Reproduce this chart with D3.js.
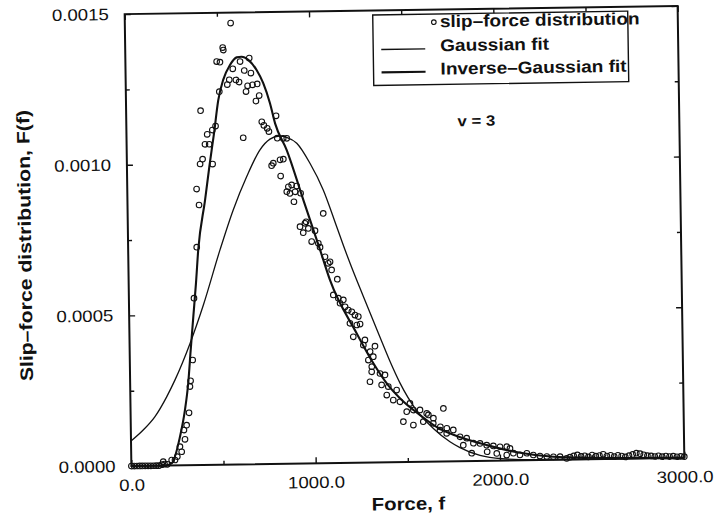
<!DOCTYPE html>
<html>
<head>
<meta charset="utf-8">
<script src="https://cdn.jsdelivr.net/npm/d3@7"></script>
<style>
  body { margin: 0; background: #fff; }
  svg { display: block; }
</style>
</head>
<body>
<svg id="chart" width="715" height="517"></svg>
<script>
// ---------------- data ----------------
const xTickValues = [0, 1000, 2000, 3000];
const xTickLabels = ["0.0", "1000.0", "2000.0", "3000.0"];
const xMinorTicks = [500, 1500, 2500];
const yTickValues = [0, 0.0005, 0.0010, 0.0015];
const yTickLabels = ["0.0000", "0.0005", "0.0010", "0.0015"];
const yMinorTicks = [0.00025, 0.00075, 0.00125];

const xTitle = "Force, f";
const yTitle = "Slip\u2013force distribution, F(f)";
const legendLabels = ["slip\u2013force distribution", "Gaussian fit", "Inverse\u2013Gaussian fit"];
const annotationText = "v = 3";

// measured slip-force distribution (force, F(f))
const slipPoints = [
  [0,0],[15,0],[30,0],[45,0],[60,0],[75,0],[90,0],[105,0],[120,0],[135,0],[150,0],
  [165,0.000003],[173,0.000013],[180,0.000005],[195,0.000004],[219,0.000018],
  [237,0.000018],[250,0.000029],[265,0.000062],[274,0.000045],[288,0.000117],[293,0.000086],
  [303,0.000133],[317,0.000174],[324,0.000261],[328,0.00028],[341,0.000349],[353,0.000554],
  [372,0.000723],[376,0.000916],[388,0.000863],[397,0.000999],[404,0.001176],[411,0.001015],
  [425,0.001064],[438,0.001097],[448,0.001064],[465,0.000998],[466,0.001111],[484,0.001124],
  [495,0.001338],[507,0.001238],[513,0.001336],[529,0.001384],[532,0.001376],[551,0.001261],
  [562,0.001277],[574,0.001465],[582,0.001313],[598,0.001276],[615,0.001269],[622,0.001337],
  [633,0.001084],[644,0.001307],[652,0.001237],[661,0.001256],[672,0.001348],[680,0.001298],
  [688,0.001259],[705,0.001205],[713,0.001262],[723,0.001223],[735,0.001136],[746,0.001124],
  [764,0.001114],[773,0.001103],[785,0.00099],[794,0.000998],[813,0.001155],[818,0.001081],
  [831,0.001009],[833,0.000955],[849,0.001011],[850,0.00108],[865,0.000903],[869,0.00108],
  [874,0.000919],[882,0.000897],[892,0.000925],[903,0.000869],[910,0.000902],[919,0.000921],
  [934,0.000786],[940,0.000897],[951,0.000766],[961,0.000797],[967,0.000802],[979,0.00078],
  [996,0.000736],[1015,0.000772],[1032,0.00073],[1041,0.000717],[1061,0.000829],[1067,0.000685],
  [1084,0.000663],[1094,0.000668],[1102,0.000641],[1109,0.000558],[1132,0.00061],[1136,0.000547],
  [1145,0.00053],[1163,0.000541],[1172,0.000518],[1189,0.000507],[1197,0.000463],[1208,0.000501],
  [1214,0.000418],[1225,0.00049],[1234,0.000457],[1243,0.000485],[1252,0.00046],[1268,0.00039],
  [1277,0.000407],[1294,0.00034],[1301,0.000268],[1304,0.000368],[1311,0.000301],[1312,0.000318],
  [1321,0.000351],[1331,0.000386],[1356,0.000295],[1364,0.000257],[1383,0.00029],[1391,0.000223],
  [1400,0.000251],[1426,0.000206],[1445,0.000239],[1462,0.0002],[1479,0.000134],[1498,0.000167],
  [1516,0.000194],[1533,0.000122],[1534,0.000172],[1570,0.000172],[1587,0.000133],[1606,0.00016],
  [1615,0.000155],[1641,0.000127],[1642,0.000144],[1677,0.000104],[1679,0.000115],[1697,0.000176],
  [1713,0.000093],[1714,0.00011],[1749,0.000104],[1785,0.000081],[1802,0.000053],[1821,0.000076],
  [1847,0.000026],[1857,0.000059],[1893,0.000058],[1929,0.000052],[1931,0.00003],[1965,0.000049],
  [1983,0.000024],[2001,0.000046],[2037,0.000018],[2038,0.000046],[2055,0.00004],[2073,0.000024],
  [2109,0.000018],[2146,0.000023],[2181,0.000017],[2217,0.000013],[2254,0.000011],[2290,0.00001],
  [2326,0.00001],[2362,0.000004],[2380,0.000008],[2400,0.000012],[2420,0.000015],[2440,0.00001],
  [2460,0.000012],[2480,0.000008],[2500,0.000014],[2520,0.00001],[2540,0.000012],[2560,0.000016],
  [2580,0.00001],[2600,0.000012],[2620,0.000008],[2640,0.000012],[2660,0.000009],[2680,0.000006],
  [2700,0.00001],[2720,0.000014],[2740,0.000018],[2760,0.000016],[2780,0.000012],[2800,0.000009],
  [2820,0.000008],[2840,0.000006],[2860,0.000008],[2880,0.000005],[2900,0.000007],[2920,0.000005],
  [2940,0.000006],[2960,0.000004],[2980,0.000005],[3000,0.000004]
];

// Gaussian fit
const gaussianFit = [
  [0,0.000083],[67,0.000119],[132,0.000163],[197,0.000228],[243,0.000283],[328,0.000404],
  [403,0.00053],[498,0.000713],[573,0.000845],[649,0.000955],[723,0.001043],[778,0.001078],
  [830,0.001088],[869,0.001083],[923,0.001063],[993,0.000996],[1063,0.000907],[1133,0.000784],
  [1176,0.000707],[1202,0.000663],[1272,0.000551],[1359,0.000415],[1411,0.000335],[1464,0.000262],
  [1552,0.00017],[1641,0.00011],[1730,0.000065],[1784,0.000045],[1892,0.000018],[2010,0.000006],
  [2200,0.000001],[2500,0],[3000,0]
];

// Inverse-Gaussian fit
const inverseGaussianFit = [
  [0,0],[100,0],[180,0],[219,0.000007],[266,0.000095],[295,0.000183],[315,0.000272],
  [331,0.000382],[348,0.000493],[365,0.000603],[380,0.000714],[421,0.000879],[447,0.00099],
  [475,0.0011],[501,0.001211],[529,0.001277],[567,0.001326],[604,0.001351],[631,0.001353],
  [667,0.001342],[711,0.001308],[746,0.001264],[781,0.001197],[807,0.00113],[868,0.001041],
  [954,0.000875],[1041,0.000708],[1092,0.000608],[1233,0.000429],[1320,0.00033],[1400,0.000255],
  [1462,0.000212],[1570,0.000155],[1676,0.000108],[1749,0.000088],[1929,0.000052],[2109,0.000025],
  [2289,0.00001],[2500,0.000005],[2750,0.000002],[3000,0.000001]
];

// ---------------- drawing ----------------
const FONT = "'Liberation Sans', Arial, Helvetica, sans-serif";
const plot = { left: 128, right: 681, top: 10, bottom: 462 };
const svg = d3.select("#chart");
svg.append("rect").attr("width", 715).attr("height", 517).attr("fill", "#fff");

// the scanned figure is slightly tilted
const root = svg.append("g").attr("transform", "rotate(-0.85,404,236)");

const x = d3.scaleLinear().domain([0, 3000]).range([plot.left, plot.right]);
const y = d3.scaleLinear().domain([0, 0.0015]).range([plot.bottom, plot.top]);

// curves
const line = d3.line().x(d => x(d[0])).y(d => y(d[1])).curve(d3.curveMonotoneX);
root.append("path").datum(gaussianFit).attr("d", line)
  .attr("fill", "none").attr("stroke", "#111").attr("stroke-width", 1.3);
root.append("path").datum(inverseGaussianFit).attr("d", line)
  .attr("fill", "none").attr("stroke", "#111").attr("stroke-width", 2.1);

// scatter
root.append("g").selectAll("circle").data(slipPoints).join("circle")
  .attr("cx", d => x(d[0])).attr("cy", d => y(d[1])).attr("r", 2.8)
  .attr("fill", "none").attr("stroke", "#111").attr("stroke-width", 1.1);

// axes
function styleAxis(g) {
  g.select(".domain").remove();
  g.selectAll(".tick line").attr("stroke", "#111").attr("stroke-width", 1.4);
}
const bottomAx = root.append("g").attr("transform", `translate(0,${plot.bottom})`)
  .call(d3.axisBottom(x).tickValues(xTickValues).tickSize(-6).tickSizeOuter(0).tickPadding(13)
    .tickFormat((d, i) => xTickLabels[i]));
styleAxis(bottomAx);
bottomAx.selectAll("text").attr("font-family", FONT).attr("font-size", 16.5).attr("fill", "#111")
  .attr("transform", "scale(1.13,1)");
root.append("g").attr("transform", `translate(0,${plot.bottom})`)
  .call(d3.axisBottom(x).tickValues(xMinorTicks).tickSize(-4).tickSizeOuter(0).tickFormat(""))
  .call(styleAxis);

const leftAx = root.append("g").attr("transform", `translate(${plot.left},0)`)
  .call(d3.axisLeft(y).tickValues(yTickValues).tickSize(-6).tickSizeOuter(0).tickPadding(14)
    .tickFormat((d, i) => yTickLabels[i]));
styleAxis(leftAx);
leftAx.selectAll("text").attr("font-family", FONT).attr("font-size", 16.5).attr("fill", "#111")
  .attr("transform", "scale(1.13,1)");
root.append("g").attr("transform", `translate(${plot.left},0)`)
  .call(d3.axisLeft(y).tickValues(yMinorTicks).tickSize(-4).tickSizeOuter(0).tickFormat(""))
  .call(styleAxis);

// mirrored ticks on top and right
root.append("g").attr("transform", `translate(0,${plot.top})`)
  .call(d3.axisTop(x).tickValues(xTickValues).tickSize(-6).tickSizeOuter(0).tickFormat(""))
  .call(styleAxis);
root.append("g").attr("transform", `translate(0,${plot.top})`)
  .call(d3.axisTop(x).tickValues(xMinorTicks).tickSize(-4).tickSizeOuter(0).tickFormat(""))
  .call(styleAxis);
root.append("g").attr("transform", `translate(${plot.right},0)`)
  .call(d3.axisRight(y).tickValues(yTickValues).tickSize(-6).tickSizeOuter(0).tickFormat(""))
  .call(styleAxis);
root.append("g").attr("transform", `translate(${plot.right},0)`)
  .call(d3.axisRight(y).tickValues(yMinorTicks).tickSize(-4).tickSizeOuter(0).tickFormat(""))
  .call(styleAxis);

// frame
root.append("rect").attr("x", plot.left).attr("y", plot.top)
  .attr("width", plot.right - plot.left).attr("height", plot.bottom - plot.top)
  .attr("fill", "none").attr("stroke", "#111").attr("stroke-width", 2);

// axis titles
root.append("text").attr("transform", `translate(${(plot.left + plot.right) / 2},510) scale(1.13,1)`)
  .attr("text-anchor", "middle").attr("font-family", FONT).attr("font-weight", "bold")
  .attr("font-size", 18).attr("fill", "#111").text(xTitle);
root.append("text").attr("transform", `translate(31,240) rotate(-90) scale(1.18,1)`)
  .attr("text-anchor", "middle").attr("font-family", FONT).attr("font-weight", "bold")
  .attr("font-size", 18).attr("fill", "#111").text(yTitle);

// legend
const legend = root.append("g");
legend.append("rect").attr("x", 376).attr("y", 14.5).attr("width", 255).attr("height", 70.5)
  .attr("fill", "#fff").attr("stroke", "#111").attr("stroke-width", 1.4);
const rowsY = [27.8, 51.8, 75.1];
legend.append("circle").attr("cx", 437).attr("cy", 22.6).attr("r", 2.3)
  .attr("fill", "none").attr("stroke", "#111").attr("stroke-width", 1.1);
legend.append("line").attr("x1", 384).attr("x2", 428).attr("y1", 49.2).attr("y2", 49.2)
  .attr("stroke", "#111").attr("stroke-width", 1.3);
legend.append("line").attr("x1", 384).attr("x2", 428).attr("y1", 72.1).attr("y2", 72.1)
  .attr("stroke", "#111").attr("stroke-width", 2.1);
legend.selectAll("text.lab").data(legendLabels).join("text").attr("class", "lab")
  .attr("transform", (d, i) => `translate(443,${rowsY[i]}) scale(1.12,1)`)
  .attr("font-family", FONT).attr("font-weight", "bold").attr("font-size", 17)
  .attr("fill", "#111").text(d => d);

// annotation
root.append("text").attr("transform", "translate(478,127) scale(1.12,1)")
  .attr("text-anchor", "middle").attr("font-family", FONT).attr("font-weight", "bold")
  .attr("font-size", 15).attr("fill", "#111").text(annotationText);
</script>
</body>
</html>
